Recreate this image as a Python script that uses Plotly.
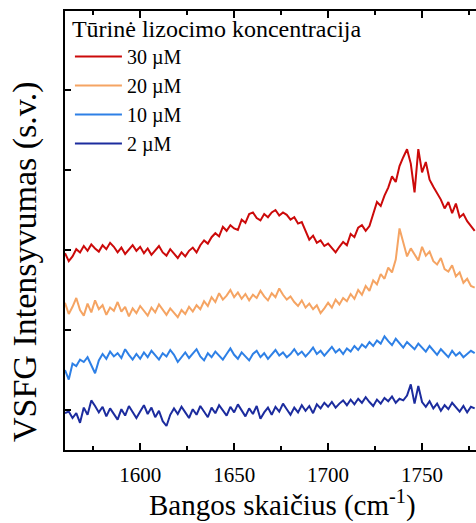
import plotly.graph_objects as go

wavenumber = [
    1560, 1562, 1564, 1566, 1568, 1570, 1572, 1574, 1576, 1578,
    1580, 1582, 1584, 1586, 1588, 1590, 1592, 1594, 1596, 1598,
    1600, 1602, 1604, 1606, 1608, 1610, 1612, 1614, 1616, 1618,
    1620, 1622, 1624, 1626, 1628, 1630, 1632, 1634, 1636, 1638,
    1640, 1642, 1644, 1646, 1648, 1650, 1652, 1654, 1656, 1658,
    1660, 1662, 1664, 1666, 1668, 1670, 1672, 1674, 1676, 1678,
    1680, 1682, 1684, 1686, 1688, 1690, 1692, 1694, 1696, 1698,
    1700, 1702, 1704, 1706, 1708, 1710, 1712, 1714, 1716, 1718,
    1720, 1722, 1724, 1726, 1728, 1730, 1732, 1734, 1736, 1738,
    1740, 1742, 1744, 1746, 1748, 1750, 1752, 1754, 1756, 1758,
    1760, 1762, 1764, 1766, 1768, 1770, 1772, 1774, 1776, 1778,
]

conc_30uM = [
    1.96, 1.86, 1.92, 2.01, 1.97, 2.05, 1.99, 2.07, 2.02, 1.98,
    2.06, 2.01, 2.09, 2.04, 1.97, 2.03, 1.95, 2.01, 2.06, 1.99,
    2.04, 1.96, 2.02, 1.94, 2.00, 2.05, 1.97, 1.93, 2.01, 1.95,
    1.90, 1.97, 1.92, 1.99, 2.03, 1.97, 2.06, 2.12, 2.08, 2.16,
    2.21, 2.17, 2.29, 2.24, 2.31, 2.27, 2.25, 2.38, 2.34, 2.45,
    2.47, 2.40, 2.37, 2.45, 2.41, 2.47, 2.50, 2.43, 2.47, 2.44,
    2.38, 2.41, 2.33, 2.35, 2.24, 2.13, 2.18, 2.09, 2.12, 2.05,
    2.08, 2.02, 1.97, 2.04, 2.10, 2.06, 2.20, 2.16, 2.28, 2.31,
    2.24, 2.30, 2.45, 2.60, 2.55, 2.68, 2.78, 2.92, 2.85, 3.05,
    3.16, 3.26, 3.08, 2.72, 3.26, 2.97, 3.10, 2.88, 2.79, 2.71,
    2.63, 2.52, 2.60, 2.46, 2.58, 2.41, 2.45, 2.36, 2.30, 2.24,
]

conc_20uM = [
    1.34, 1.20, 1.29, 1.40, 1.25, 1.18, 1.33, 1.22, 1.37, 1.26,
    1.31, 1.19, 1.28, 1.24, 1.35, 1.23, 1.29, 1.17, 1.27, 1.21,
    1.30, 1.24, 1.18, 1.28, 1.22, 1.32, 1.25, 1.19, 1.27, 1.21,
    1.16, 1.25, 1.20, 1.29, 1.23, 1.31, 1.26, 1.36, 1.30, 1.41,
    1.35, 1.46, 1.38, 1.43, 1.50, 1.41, 1.47, 1.39, 1.45, 1.37,
    1.44, 1.40, 1.49, 1.42, 1.37, 1.46, 1.41, 1.52, 1.44, 1.38,
    1.42, 1.35, 1.30, 1.37, 1.28, 1.33, 1.26, 1.31, 1.21, 1.27,
    1.34, 1.28, 1.38, 1.32, 1.40, 1.36, 1.45, 1.39, 1.50, 1.44,
    1.55, 1.49, 1.62, 1.57, 1.70, 1.64, 1.78, 1.72, 1.88, 2.27,
    2.08, 1.92, 2.02, 1.95, 1.87, 2.04, 1.93, 1.98, 1.86, 1.82,
    1.90, 1.76, 1.73, 1.81, 1.67, 1.72, 1.59, 1.64, 1.55, 1.53,
]

conc_10uM = [
    0.50, 0.38, 0.58, 0.55, 0.63, 0.60, 0.66, 0.57, 0.46, 0.62,
    0.70, 0.64, 0.73, 0.67, 0.71, 0.65, 0.76, 0.69, 0.63, 0.70,
    0.64, 0.72, 0.66, 0.74, 0.68, 0.63, 0.71, 0.67, 0.75, 0.69,
    0.60, 0.66, 0.72, 0.65, 0.70, 0.76, 0.67, 0.62, 0.71, 0.66,
    0.73, 0.68, 0.63, 0.70, 0.77, 0.69, 0.64, 0.72, 0.67, 0.62,
    0.70, 0.74, 0.66, 0.71, 0.64, 0.69, 0.75, 0.68, 0.72, 0.66,
    0.70, 0.76, 0.69, 0.73, 0.67, 0.72, 0.78, 0.70, 0.74, 0.68,
    0.73, 0.79, 0.72, 0.76, 0.70, 0.77, 0.73, 0.80, 0.75, 0.82,
    0.78, 0.85, 0.80, 0.87, 0.83, 0.92, 0.86, 0.81, 0.89, 0.84,
    0.78, 0.85, 0.80, 0.76, 0.83, 0.78, 0.73, 0.80, 0.74, 0.69,
    0.76, 0.71, 0.66, 0.74, 0.68, 0.72, 0.66, 0.70, 0.74, 0.71,
]

conc_2uM = [
    -0.04, -0.02, -0.10, -0.04, -0.16, 0.03, -0.06, 0.12, 0.05, -0.03,
    0.04, -0.08, 0.02, -0.05, -0.12, 0.01, -0.07, 0.05, -0.03, -0.10,
    -0.02, 0.06, -0.05, 0.03, -0.09, -0.01, -0.14, -0.20, -0.06, 0.02,
    -0.05, 0.04, -0.03, -0.10, 0.01, -0.06, 0.05, -0.02, -0.09, 0.03,
    -0.04, 0.06, 0.00, -0.07, 0.04, -0.03, 0.07, -0.01, -0.08, 0.02,
    -0.05, 0.05, -0.11, -0.03, 0.03, -0.06, 0.04, -0.02, 0.08, 0.01,
    -0.06, 0.03, -0.03, 0.06, -0.01, 0.05, -0.04, 0.07, 0.02, 0.09,
    0.04, 0.10, 0.03, 0.08, 0.12, 0.06, 0.13, 0.07, 0.14, 0.09,
    0.16, 0.10, 0.05, 0.13, 0.08, 0.15, 0.11, 0.17, 0.09, 0.14,
    0.12, 0.18, 0.32, 0.08, 0.30, 0.10, 0.04, 0.11, 0.02, 0.08,
    -0.01, 0.06, 0.01, 0.09, 0.03, -0.02, 0.05, -0.03, 0.04, 0.02,
]

series_names = ["30 \u00b5M", "20 \u00b5M", "10 \u00b5M", "2 \u00b5M"]
series_values = [conc_30uM, conc_20uM, conc_10uM, conc_2uM]
series_colors = ["#cc0a0a", "#f5a463", "#2e80e6", "#1c2c9e"]

legend_title = "T\u016brin\u0117 lizocimo koncentracija"
x_title = "Bangos skai\u010dius (cm<sup>-1</sup>)"
y_title = "VSFG Intensyvumas (s.v.)"

FONT = "Liberation Serif, Times New Roman, serif"

fig = go.Figure()
for name, vals, col in zip(series_names, series_values, series_colors):
    fig.add_trace(go.Scatter(x=wavenumber, y=vals, mode="lines", name=name,
                             line=dict(color=col, width=2)))

fig.update_layout(
    width=476, height=523,
    margin=dict(l=65, r=0, t=11, b=73),
    paper_bgcolor="white", plot_bgcolor="white",
    font=dict(family=FONT, color="black", size=20),
    showlegend=True,
    legend=dict(
        x=0.012, y=1.012, xanchor="left", yanchor="top",
        bgcolor="rgba(0,0,0,0)",
        title=dict(text=legend_title, font=dict(size=24, family=FONT)),
        font=dict(size=20, family=FONT),
        tracegroupgap=0, itemwidth=47,
    ),
    xaxis=dict(
        range=[1560, 1778.7], tick0=1600, dtick=50,
        ticks="inside", ticklen=7, tickwidth=2, tickcolor="black",
        showline=True, linewidth=2, linecolor="black", mirror="ticks",
        showgrid=False, zeroline=False,
        minor=dict(ticks="inside", ticklen=4, tickwidth=2, tickcolor="black",
                   tick0=1575, dtick=50, showgrid=False),
        tickfont=dict(size=21, family=FONT),
        ticklabelstandoff=5,
    ),
    yaxis=dict(
        range=[-0.5, 4.9875], tick0=0, dtick=1,
        ticks="inside", ticklen=6, tickwidth=2, tickcolor="black",
        showline=True, linewidth=2, linecolor="black", mirror=False,
        showgrid=False, zeroline=False, showticklabels=False,
    ),
    yaxis2=dict(
        range=[-0.5, 4.9875], tick0=0, dtick=1, overlaying="y", side="right",
        ticks="inside", ticklen=6, tickwidth=2, tickcolor="black",
        showline=False, showgrid=False, zeroline=False, showticklabels=False,
    ),
    annotations=[
        dict(text=x_title, xref="paper", yref="paper",
             x=(282 - 65) / 411, y=(450 - 503) / 439,
             xanchor="center", yanchor="middle", showarrow=False,
             font=dict(size=29, family=FONT, color="black")),
        dict(text=y_title, xref="paper", yref="paper",
             x=(25 - 65) / 411, y=(450 - 262) / 439, textangle=-90,
             xanchor="center", yanchor="middle", showarrow=False,
             font=dict(size=34, family=FONT, color="black")),
    ],
)

fig.write_html("out.html")
